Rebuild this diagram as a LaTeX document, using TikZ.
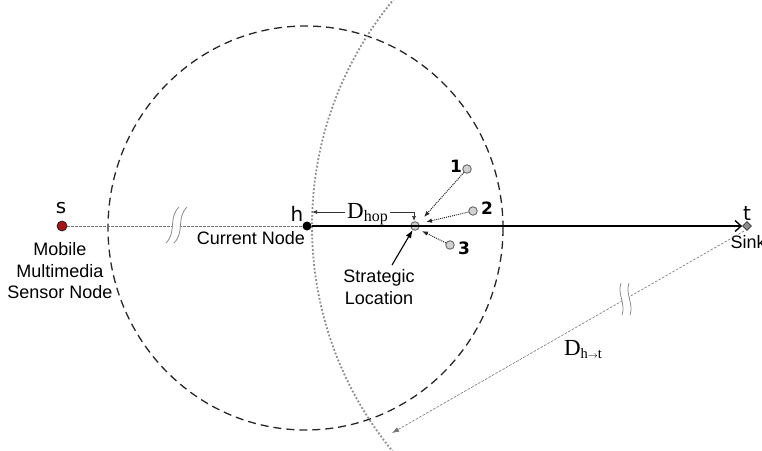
\documentclass[tikz,border=0pt]{standalone}
\usepackage{fontspec}
\setmainfont{Liberation Sans}
\newfontfamily\serifD{Liberation Serif}
\newfontfamily\dejavu{DejaVu Sans}
\usetikzlibrary{arrows.meta,shapes.geometric}
\begin{document}
\begin{tikzpicture}[x=1pt,y=-1pt,
  lbl/.style={font=\fontsize{18}{21.5}\selectfont, inner sep=0pt, align=center},
  letter/.style={font=\dejavu\fontsize{20}{20}\selectfont, inner sep=0pt},
  numlbl/.style={font=\dejavu\bfseries\fontsize{17}{17}\selectfont, inner sep=0pt},
  reddot/.style={circle, fill={rgb,255:red,165;green,20;blue,20}, draw=black!85, line width=0.8pt, inner sep=0pt, minimum size=10pt},
  blackdot/.style={circle, fill=black, inner sep=0pt, minimum size=9pt},
  graydot/.style={circle, fill=black!18, draw=black!60, line width=0.9pt, inner sep=0pt, minimum size=8.5pt},
  sinkdiam/.style={diamond, fill=black!45, draw=black!80, line width=0.8pt, inner sep=0pt, minimum size=9pt},
  thinlink/.style={draw=black!55, line width=0.6pt, dash pattern=on 2.5pt off 1.5pt},
  dotlink/.style={draw=black!85, line width=1pt, densely dotted, -{Latex[length=6pt,width=4.5pt]}},
  bigdash/.style={draw=black!85, line width=1.3pt, dash pattern=on 8pt off 5pt},
  arcdot/.style={draw=black!45, line width=1.8pt, dotted},
  brk/.style={draw=black!45, line width=0.8pt},
  dim/.style={draw=black!80, line width=0.7pt}
]
\useasboundingbox (0,0) rectangle (762,450);

% big dashed circle around the current node
\draw[bigdash] (305.5,228) ellipse [x radius=197.5, y radius=202];

% dotted arc
\begin{scope}
\clip (0,0) rectangle (762,450);
\draw[arcdot] (667,226) circle (355);
\end{scope}

% nodes
\node[reddot] (s) at (62,226) {};
\node[blackdot] (h) at (307,226) {};
\node[sinkdiam] (t) at (747,226) {};
\node[graydot] (sl) at (415,226) {};
\node[graydot] (n1) at (467,169) {};
\node[graydot] (n2) at (473,211) {};
\node[graydot] (n3) at (450,245) {};

% s -> h thin dashed line with break
\draw[thinlink] (s) -- (h);
\fill[white] (166,243) .. controls (177,232) and (168,218) .. (179,207) -- (187,207) .. controls (176,218) and (185,232) .. (174,243) -- cycle;
\draw[brk] (166,243) .. controls (177,232) and (168,218) .. (179,207);
\draw[brk] (174,243) .. controls (185,232) and (176,218) .. (187,207);

% thick line h -> t
\draw[line width=2pt, -{Straight Barb[length=6pt,width=11pt,line width=1.4pt]}] (h) -- (t);

% labels
\node[letter] (slab) at (61,208) {s};
\node[letter] (hlab) at (297,214) {h};
\node[letter] (tlab) at (747,213) {t};
\node[lbl] (mmsn) at (60,271) {Mobile\\Multimedia\\Sensor Node};
\node[lbl] (cn) at (251,238) {Current Node};
\node[lbl] (sink) at (748,242) {Sink};
\node[lbl] (strat) at (379,287) {Strategic\\Location};

\node[numlbl] (l1) at (456,166) {1};
\node[numlbl] (l2) at (487,208) {2};
\node[numlbl] (l3) at (464,248) {3};

% neighbour arrows
\coordinate (e1) at (424,217);
\coordinate (e2) at (426,222);
\coordinate (e3) at (422,231);
\draw[dotlink] (n1) -- (e1);
\draw[dotlink] (n2) -- (e2);
\draw[dotlink] (n3) -- (e3);

% strategic location pointer
\coordinate (sa) at (392,265);
\draw[line width=1.1pt, -{Latex[length=8pt,width=6pt]}] (sa) -- (sl);

% D_hop dimension
\node[font=\serifD\fontsize{23}{23}\selectfont, inner sep=0pt, anchor=base west] (dhop) at (347,218) {D\raisebox{-3pt}{\fontsize{16}{16}\selectfont hop}};
\coordinate (dl) at (312,212);
\coordinate (dr) at (414,212);
\coordinate (dd) at (414,221);
\draw[dim, -{Latex[length=5pt,width=4pt]}] (dhop.west |- dl) ++(-2,0) -- (dl);
\draw[dim, -{Latex[length=5pt,width=4pt]}] (dhop.east |- dl) ++(2,0) -- (dr) -- (dd);

% D_{h->t} dotted line with break
\coordinate (dend) at (392,433);
\coordinate (tstart) at (744,231);
\draw[thinlink, -{Latex[length=7pt,width=5pt]}] (tstart) -- (dend);
\fill[white] (621,283) .. controls (617,294) and (626,304) .. (622,315) -- (630,315) .. controls (634,304) and (625,294) .. (629,283) -- cycle;
\draw[brk] (621,283) .. controls (617,294) and (626,304) .. (622,315);
\draw[brk] (629,283) .. controls (625,294) and (634,304) .. (630,315);
\node[font=\serifD\fontsize{23}{23}\selectfont, inner sep=0pt] (dht) at (583,350) {D\raisebox{-3pt}{\fontsize{14.5}{14.5}\selectfont h$\scriptstyle\rightarrow$t}};

\end{tikzpicture}
\end{document}
